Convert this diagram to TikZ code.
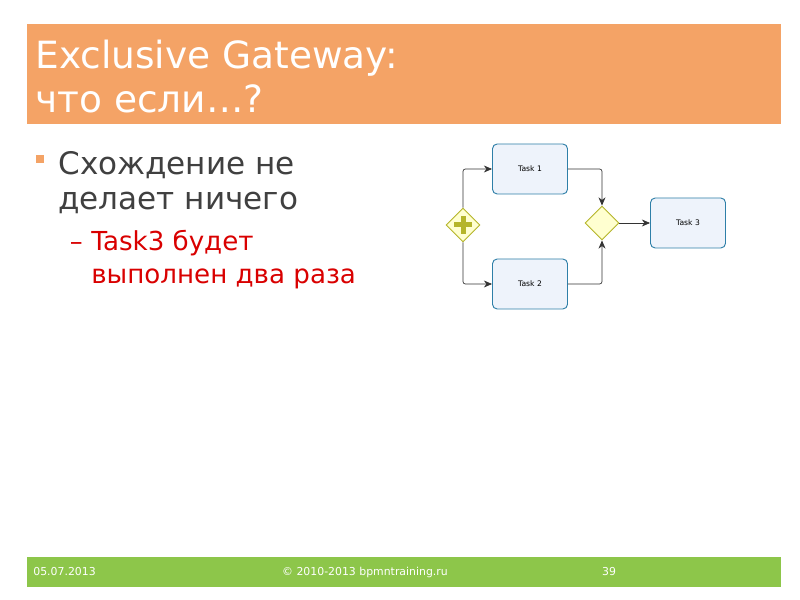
\documentclass[tikz,border=0pt]{standalone}
\usepackage{fontspec}
\setmainfont{DejaVu Sans}
\usetikzlibrary{calc, positioning, shapes.geometric, arrows, arrows.meta}
\definecolor{headorange}{HTML}{F4A366}
\definecolor{footgreen}{HTML}{8DC64A}
\definecolor{taskblue}{HTML}{2E7FA8}
\definecolor{taskfill}{HTML}{EEF3FB}
\definecolor{gwline}{HTML}{B5B52A}
\definecolor{gwfill}{HTML}{FFFFD0}
\definecolor{bodygray}{HTML}{404040}
\tikzset{>=stealth', font=\scriptsize}

\begin{document}
\begin{tikzpicture}[x=0.03cm,y=-0.03cm,semithick]
\tikzstyle{task}=[draw=taskblue,fill=taskfill,rounded corners=4pt,thick,
                  minimum width=75*0.03cm,minimum height=50*0.03cm,font=\fontsize{6.5}{7}\selectfont]
\tikzstyle{gateway}=[diamond,draw=gwline,fill=gwfill,thick,minimum size=34*0.03cm,inner sep=0pt]
\tikzstyle{flow}=[-{Stealth[length=7pt,width=6pt]},draw=black!80,semithick,rounded corners=2pt]

\useasboundingbox (0,0) rectangle (800,600);
\fill[white] (0,0) rectangle (800,600);

% header and footer
\fill[headorange] (27,24) rectangle (781,124);
\node[anchor=base west,text=white,font=\fontsize{32}{36}\selectfont,inner sep=0pt] (l1) at (35,69) {Exclusive Gateway:};
\node[anchor=base west,text=white,font=\fontsize{32}{36}\selectfont,inner sep=0pt] (l2) at (35,113) {что если…?};
\fill[footgreen] (27,557) rectangle (781,587);
\node[anchor=west,text=white,font=\fontsize{9.3}{10}\selectfont,inner sep=0pt] (date) at (33,572) {05.07.2013};
\node[text=white,font=\fontsize{9.3}{10}\selectfont,inner sep=0pt] (copy) at (365,572) {© 2010-2013 bpmntraining.ru};
\node[text=white,font=\fontsize{9.3}{10}\selectfont,inner sep=0pt] (page) at (609,572) {39};

% bullets
\fill[headorange] (36,155) rectangle (44,163);
\node[anchor=base west,text=bodygray,font=\fontsize{26.5}{30}\selectfont,inner sep=0pt] (b1) at (58,175) {Схождение не};
\node[anchor=base west,text=bodygray,font=\fontsize{26.5}{30}\selectfont,inner sep=0pt] (b1b) at (58,210) {делает ничего};
\node[anchor=base east,text=red!85!black,font=\fontsize{22}{28}\selectfont,inner sep=0pt] (dash) at (83,251) {–};
\node[anchor=base west,text=red!85!black,font=\fontsize{22.3}{28}\selectfont,inner sep=0pt] (b2) at (91,251) {Task3 будет};
\node[anchor=base west,text=red!85!black,font=\fontsize{22.3}{28}\selectfont,inner sep=0pt] (b2b) at (91,284) {выполнен два раза};

% diagram
\node[task] (t1) at (530,169) {Task 1};
\node[task] (t2) at (530,284) {Task 2};
\node[task] (t3) at (688,223) {Task 3};
\node[gateway] (fork) at (463,225) {};
\fill[gwline] ($(fork)+(-9,-2.5)$) rectangle ($(fork)+(9,2.5)$);
\fill[gwline] ($(fork)+(-2.5,-9)$) rectangle ($(fork)+(2.5,9)$);
\node[gateway] (join) at (602,223) {};

\draw[flow] (fork.north) |- (t1.west);
\draw[flow] (fork.south) |- (t2.west);
\draw[flow] (t1.east) -| (join.north);
\draw[flow] (t2.east) -| (join.south);
\draw[flow] (join.east) -- (t3.west);
\end{tikzpicture}
\end{document}
